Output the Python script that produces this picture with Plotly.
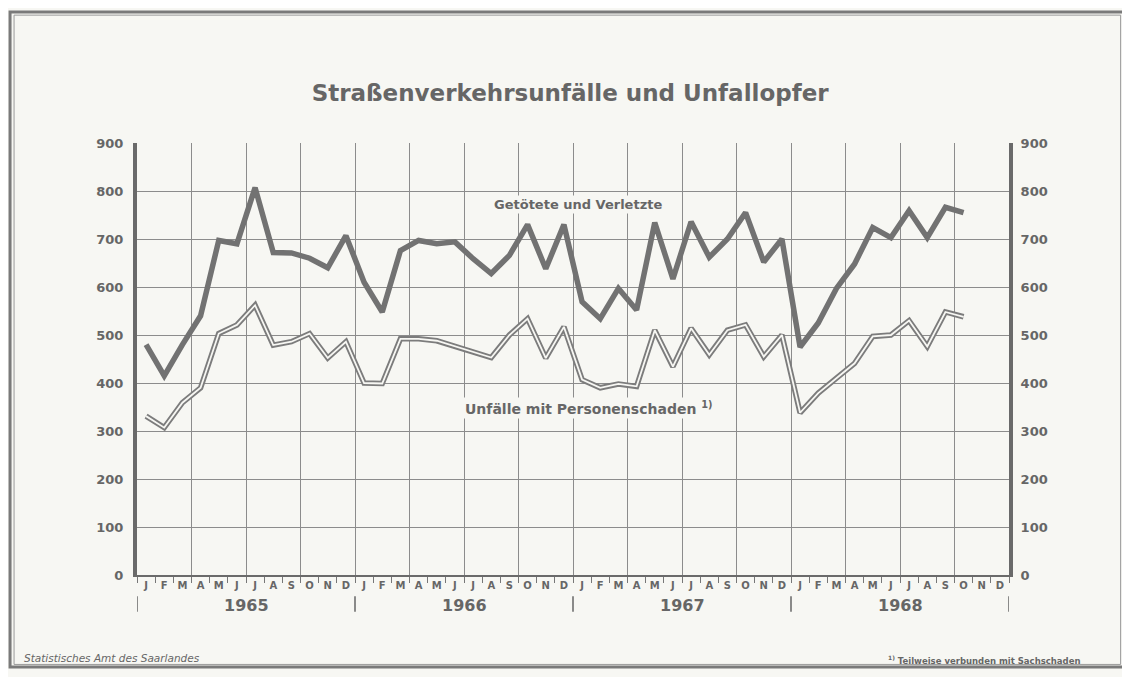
import plotly.graph_objects as go

months = ["J", "F", "M", "A", "M", "J", "J", "A", "S", "O", "N", "D"]
years = ["1965", "1966", "1967", "1968"]

# Getötete und Verletzte (monthly, Jan 1965 - Oct 1968)
getoetete = [480, 415, 480, 540, 697, 690, 807, 672, 671, 660, 640, 707,
             610, 548, 676, 697, 690, 694, 659, 628, 666, 730, 638, 730,
             569, 534, 597, 552, 734, 617, 736, 662, 700, 755, 652, 700,
             475, 525, 597, 648, 724, 703, 759, 703, 766, 755]

# Unfälle mit Personenschaden
unfaelle = [331, 307, 359, 390, 503, 521, 562, 479, 486, 503, 452, 486,
            400, 399, 492, 492, 488, 476, 464, 453, 500, 534, 452, 517,
            407, 390, 398, 393, 510, 434, 514, 459, 510, 521, 455, 500,
            338, 379, 410, 441, 497, 500, 530, 476, 548, 538]

n_months = len(months) * len(years)
x_pos = [i + 0.5 for i in range(len(getoetete))]
x_lab = [i + 0.5 for i in range(n_months)]

PAPER = "#f7f7f3"
INK = "#666666"
GRID = "#8c8c8c"
FONT = "DejaVu Sans"

fig = go.Figure()

fig.add_trace(go.Scatter(x=x_pos, y=getoetete, mode="lines",
                         line=dict(color="#727272", width=5.5),
                         hoverinfo="skip", showlegend=False))
# double (hollow) line
fig.add_trace(go.Scatter(x=x_pos, y=unfaelle, mode="lines",
                         line=dict(color="#7c7c7c", width=5.5),
                         hoverinfo="skip", showlegend=False,
                         xaxis="x2", yaxis="y2"))
fig.add_trace(go.Scatter(x=x_pos, y=unfaelle, mode="lines",
                         line=dict(color=PAPER, width=1.8),
                         hoverinfo="skip", showlegend=False,
                         xaxis="x2", yaxis="y2"))

tick_font = dict(family=FONT, size=13, color=INK, weight="bold")

fig.update_layout(
    width=1122, height=669,
    margin=dict(l=129, r=121, t=135, b=102),
    paper_bgcolor=PAPER, plot_bgcolor=PAPER,
    title=dict(text="<b>Straßenverkehrsunfälle und Unfallopfer</b>",
               x=0.501, xanchor="center", y=0.873, yanchor="middle",
               font=dict(family=FONT, size=23, color=INK)),
    xaxis=dict(range=[0, n_months], tickvals=x_lab,
               ticktext=[months[i % 12] for i in range(n_months)],
               showgrid=False, zeroline=False, ticks="",
               tickfont=dict(family=FONT, size=10, color=INK, weight="bold"),
               showline=True, linecolor="#6a6a6a", linewidth=2,
               minor=dict(dtick=1, tick0=0, ticks="outside", ticklen=6,
                          tickcolor="#777", tickwidth=1, showgrid=False),
               fixedrange=True),
    xaxis2=dict(range=[0, n_months], overlaying="x", dtick=3, tick0=0,
                showgrid=True, gridcolor=GRID, gridwidth=1.2,
                showticklabels=False, zeroline=False, ticks="",
                fixedrange=True),
    yaxis=dict(range=[0, 900], dtick=100, showgrid=True, gridcolor=GRID,
               gridwidth=1.2, zeroline=False, tickfont=tick_font,
               showline=True, linecolor="#6a6a6a", linewidth=4,
               ticks="", ticklabelstandoff=7, fixedrange=True),
    yaxis2=dict(range=[0, 900], dtick=100, overlaying="y", side="right",
                showgrid=False, zeroline=False, tickfont=tick_font,
                showline=True, linecolor="#6a6a6a", linewidth=4,
                ticks="", ticklabelstandoff=5, fixedrange=True),
)

# Year labels and separators
for k, yr in enumerate(years):
    fig.add_annotation(x=k * 12 + 6, xref="x", y=-0.071, yref="paper",
                       yanchor="middle",
                       text="<b>%s</b>" % yr, showarrow=False,
                       font=dict(family=FONT, size=16, color=INK))
for k in range(len(years) + 1):
    fig.add_shape(type="line", xref="x", yref="paper",
                  x0=k * 12, x1=k * 12, y0=-0.049, y1=-0.085,
                  line=dict(color="#666", width=1.5))

# Series labels
fig.add_annotation(x=24.3, y=771, xref="x", yref="y",
                   text="<b>Getötete und Verletzte</b>", showarrow=False,
                   bgcolor=PAPER, font=dict(family=FONT, size=13, color=INK))
fig.add_annotation(x=24.9, y=348, xref="x", yref="y",
                   text="<b>Unfälle mit Personenschaden <sup>1)</sup></b>", showarrow=False,
                   bgcolor=PAPER, font=dict(family=FONT, size=14, color=INK))

# Footers
fig.add_annotation(x=-0.132, y=-0.192, xref="paper", yref="paper",
                   xanchor="left", yanchor="middle",
                   text="<i>Statistisches Amt des Saarlandes</i>",
                   showarrow=False, font=dict(family=FONT, size=10.5, color=INK))
fig.add_annotation(x=1.084, y=-0.197, xref="paper", yref="paper",
                   xanchor="right", yanchor="middle",
                   text="<b><sup>1)</sup> Teilweise verbunden mit Sachschaden</b>",
                   showarrow=False, font=dict(family=FONT, size=8.5, color=INK))

# Outer frame
fig.add_shape(type="rect", xref="paper", yref="paper",
              x0=-0.1456, x1=1.133, y0=-0.213, y1=1.303,
              line=dict(color="#7a7a7a", width=3))
fig.add_shape(type="rect", xref="paper", yref="paper",
              x0=-0.141, x1=1.128, y0=-0.207, y1=1.296,
              line=dict(color="#9a9a9a", width=1))

fig.write_html("out.html")
